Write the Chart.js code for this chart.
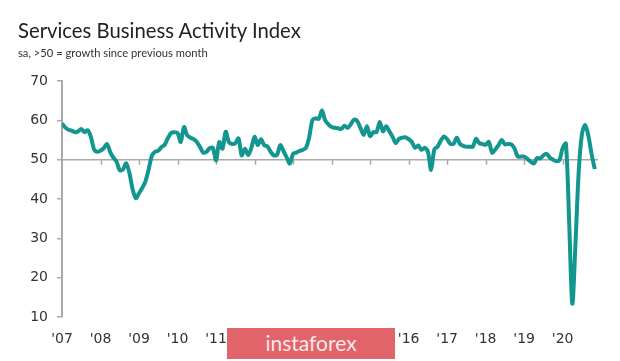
<!DOCTYPE html>
<html>
<head>
<meta charset="utf-8">
<script src="https://cdn.jsdelivr.net/npm/chart.js@4/dist/chart.umd.min.js"></script>
<style>
  body { margin: 0; background: #fff; }
  #wrap { position: relative; width: 620px; height: 361px; overflow: hidden; }
  #title { position: absolute; left: 18px; top: 18px; font: 20.3px Lato, "Open Sans", sans-serif; color: #222; white-space: nowrap; }
  #subtitle { position: absolute; left: 18px; top: 46px; font: 11.2px Lato, "Open Sans", sans-serif; color: #333; white-space: nowrap; }
  #mark { position: absolute; left: 227px; top: 328px; width: 168px; height: 31px; background: #e0646a;
          color: #fbe9ea; font: 21px Lato, "Open Sans", sans-serif; text-align: center; line-height: 30px; }
</style>
</head>
<body>
<div id="wrap">
  <canvas id="chartCanvas" width="620" height="361"></canvas>
  <div id="title">Services Business Activity Index</div>
  <div id="subtitle">sa, &gt;50 = growth since previous month</div>
  <div id="mark">instaforex</div>
</div>
<script>
// monthly index values, Jan..Dec per year
var v2007 = [59.2, 58.2, 57.6, 57.4, 57.0, 57.2, 57.8, 57.0, 57.5, 55.8, 52.6, 52.0];
var v2008 = [52.3, 52.9, 54.0, 52.0, 50.5, 49.5, 47.3, 47.5, 49.1, 46.6, 42.5, 40.2];
var v2009 = [41.5, 42.8, 44.5, 47.5, 51.0, 52.0, 52.3, 53.2, 53.8, 55.5, 56.8, 57.0];
var v2010 = [56.8, 54.5, 58.3, 56.2, 55.6, 55.2, 54.5, 53.2, 51.8, 52.0, 52.9, 53.0];
var v2011 = [49.8, 54.5, 52.8, 57.1, 54.5, 54.0, 54.2, 55.4, 51.1, 52.8, 51.2, 53.0];
var v2012 = [55.8, 53.7, 55.2, 53.7, 53.4, 52.0, 51.1, 51.2, 53.7, 52.2, 50.6, 49.0];
var v2013 = [51.5, 51.8, 52.2, 52.5, 53.0, 55.6, 60.0, 60.5, 60.4, 62.5, 60.0, 59.0];
var v2014 = [58.3, 58.1, 58.0, 57.8, 58.6, 58.1, 59.0, 60.2, 59.8, 58.0, 56.3, 58.5];
var v2015 = [56.0, 57.0, 57.0, 59.6, 57.2, 58.5, 57.2, 55.8, 54.2, 55.3, 55.6, 55.7];
var v2016 = [55.2, 54.5, 53.0, 53.6, 52.5, 53.0, 52.0, 47.4, 52.6, 53.3, 54.8, 55.9];
var v2017 = [55.2, 54.0, 54.0, 55.6, 54.0, 53.5, 53.3, 53.3, 53.3, 55.3, 54.2, 54.0];
var v2018 = [53.8, 54.5, 51.8, 52.6, 53.7, 55.0, 53.9, 54.0, 53.9, 52.8, 50.8, 50.8];
var v2019 = [50.8, 50.2, 49.5, 49.0, 50.4, 50.3, 51.1, 51.5, 50.5, 50.0, 49.6, 49.9];
var v2020 = [53.0, 54.1, 34.5, 13.4, 29.0, 47.1, 56.5, 58.8, 56.1, 51.4, 47.6];

var yearTicks = ["'07", "'08", "'09", "'10", "'11", "'12", "'13", "'14", "'15", "'16", "'17", "'18", "'19", "'20"];
var yTicks = [10, 20, 30, 40, 50, 60, 70];

var values = [].concat(v2007, v2008, v2009, v2010, v2011, v2012, v2013,
                       v2014, v2015, v2016, v2017, v2018, v2019, v2020);

// months since Jan 2007 as x
var points = values.map(function (v, i) {
    return { x: i, y: v };
});

var axisColor = '#a9a9a9';

// grey line at 50 with small year ticks hanging from it
var fiftyLine = {
    id: 'fiftyLine',
    beforeDatasetsDraw: function (chart) {
        var ctx = chart.ctx;
        var xs = chart.scales.x;
        var ys = chart.scales.y;
        var y = ys.getPixelForValue(50);
        ctx.save();
        ctx.strokeStyle = axisColor;
        ctx.lineWidth = 1.5;
        ctx.beginPath();
        ctx.moveTo(chart.chartArea.left, y);
        ctx.lineTo(chart.chartArea.right, y);
        yearTicks.forEach(function (t, i) {
            if (i === 0) return;
            var x = Math.round(xs.getPixelForValue(i * 12)) + 0.5;
            ctx.moveTo(x, y);
            ctx.lineTo(x, y + 5);
        });
        ctx.stroke();
        ctx.restore();
    }
};

function drawGraph(chartContextId) {
    var ctx = document.getElementById(chartContextId);

    return new Chart(ctx, {
        type: 'line',
        data: {
            datasets: [{
                data: points,
                borderColor: '#12968f',
                borderWidth: 4,
                pointRadius: 0,
                tension: 0.3,
                fill: false
            }]
        },
        options: {
            responsive: false,
            animation: false,
            layout: { padding: { left: 0, top: 81, right: 22, bottom: 0 } },
            plugins: { legend: { display: false }, tooltip: { enabled: false } },
            scales: {
                x: {
                    type: 'linear',
                    min: 0,
                    max: 167,
                    grid: { display: false, drawTicks: false },
                    border: { display: false },
                    afterFit: function (scale) { scale.height = 44; },
                    afterBuildTicks: function (scale) {
                        scale.ticks = yearTicks.map(function (t, i) { return { value: i * 12 }; });
                    },
                    ticks: {
                        autoSkip: false,
                        maxRotation: 0,
                        minRotation: 0,
                        padding: 14,
                        color: '#333',
                        font: { family: 'DejaVu Sans', size: 14 },
                        callback: function (value) { return yearTicks[Math.round(value / 12)]; }
                    }
                },
                y: {
                    min: 10,
                    max: 70,
                    afterFit: function (scale) { scale.width = 62; },
                    afterBuildTicks: function (scale) {
                        scale.ticks = yTicks.map(function (v) { return { value: v }; });
                    },
                    grid: { drawOnChartArea: false, drawTicks: true, tickLength: 5, color: axisColor, lineWidth: 1.5 },
                    border: { display: true, color: axisColor, width: 2 },
                    ticks: {
                        padding: 9,
                        color: '#333',
                        font: { family: 'DejaVu Sans', size: 14 }
                    }
                }
            }
        },
        plugins: [fiftyLine]
    });
}

drawGraph('chartCanvas');
</script>
</body>
</html>
